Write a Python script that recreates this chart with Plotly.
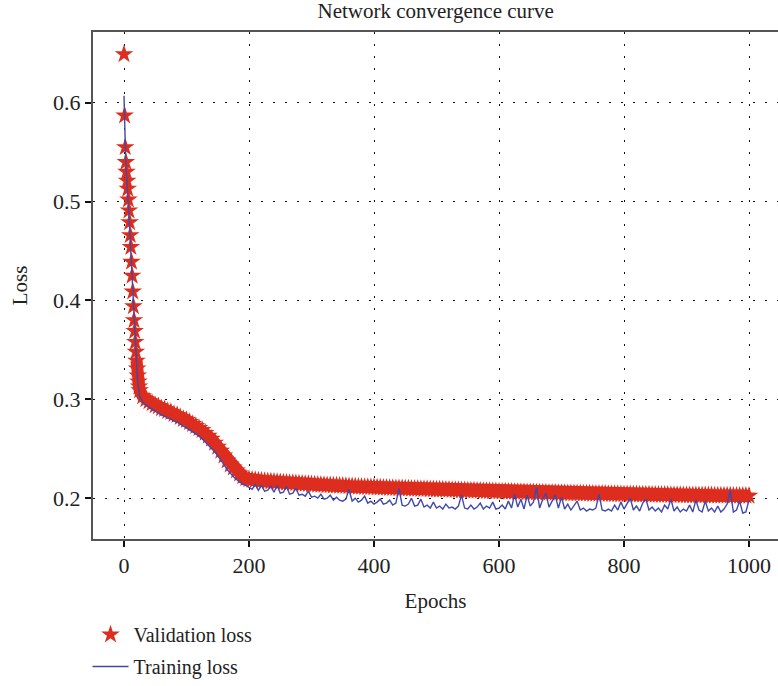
import plotly.graph_objects as go

# ---------------- data ----------------
val_epochs = list(range(0, 26)) + list(range(30, 1001, 5))
val_loss = [
    0.649, 0.587, 0.555, 0.540, 0.530, 0.521, 0.513, 0.502, 0.491, 0.479,
    0.466, 0.454, 0.439, 0.425, 0.409, 0.394, 0.380, 0.369, 0.358, 0.348,
    0.339, 0.331, 0.324, 0.318, 0.313, 0.309,
    # 30..200 step 5
    0.303, 0.300, 0.298, 0.296, 0.294, 0.293, 0.291, 0.290, 0.288, 0.287,
    0.285, 0.284, 0.282, 0.280, 0.279, 0.277, 0.275, 0.273, 0.271, 0.269,
    0.266, 0.263, 0.260, 0.256, 0.252, 0.248, 0.243, 0.238, 0.234, 0.231,
    0.228, 0.225, 0.222, 0.220, 0.219,
    # 205..1000 step 5
    0.2186, 0.2182, 0.2179, 0.2176, 0.2173, 0.2170, 0.2168, 0.2165, 0.2162, 0.2160,
    0.2158, 0.2156, 0.2154, 0.2152, 0.2150, 0.2148, 0.2146, 0.2144, 0.2142, 0.2140,
    0.2138, 0.2136, 0.2134, 0.2133, 0.2131, 0.2130, 0.2128, 0.2127, 0.2125, 0.2124,
    0.2122, 0.2121, 0.2119, 0.2118, 0.2116, 0.2115, 0.2113, 0.2112, 0.2111, 0.2110,
    0.2108, 0.2107, 0.2106, 0.2105, 0.2103, 0.2102, 0.2101, 0.2100, 0.2099, 0.2098,
    0.2097, 0.2096, 0.2095, 0.2094, 0.2093, 0.2092, 0.2091, 0.2090, 0.2089, 0.2088,
    0.2087, 0.2086, 0.2085, 0.2084, 0.2083, 0.2082, 0.2081, 0.2080, 0.2079, 0.2078,
    0.2077, 0.2076, 0.2075, 0.2074, 0.2073, 0.2072, 0.2071, 0.2070, 0.2069, 0.2068,
    0.2067, 0.2066, 0.2065, 0.2064, 0.2063, 0.2062, 0.2062, 0.2061, 0.2060, 0.2060,
    0.2059, 0.2058, 0.2057, 0.2056, 0.2056, 0.2055, 0.2054, 0.2054, 0.2053, 0.2052,
    0.2051, 0.2050, 0.2050, 0.2049, 0.2048, 0.2048, 0.2047, 0.2046, 0.2046, 0.2045,
    0.2045, 0.2044, 0.2044, 0.2043, 0.2042, 0.2042, 0.2041, 0.2041, 0.2040, 0.2040,
    0.2039, 0.2039, 0.2038, 0.2038, 0.2037, 0.2037, 0.2036, 0.2036, 0.2035, 0.2035,
    0.2034, 0.2034, 0.2033, 0.2033, 0.2032, 0.2032, 0.2031, 0.2031, 0.2030, 0.2030,
    0.2030, 0.2030, 0.2029, 0.2029, 0.2028, 0.2028, 0.2028, 0.2028, 0.2027, 0.2027,
    0.2026, 0.2026, 0.2026, 0.2026, 0.2025, 0.2025, 0.2025, 0.2025, 0.2024, 0.2024,
]

train_epochs = list(range(0, 26)) + list(range(30, 1001, 5))
train_loss = [
    0.607, 0.572, 0.550, 0.536, 0.526, 0.517, 0.507, 0.496, 0.485, 0.473,
    0.460, 0.447, 0.433, 0.419, 0.404, 0.390, 0.376, 0.364, 0.353, 0.343,
    0.334, 0.326, 0.318, 0.312, 0.307, 0.303,
    # 30..200 step 5
    0.297, 0.294, 0.292, 0.290, 0.288, 0.286, 0.284, 0.283, 0.281, 0.280,
    0.278, 0.277, 0.275, 0.273, 0.271, 0.269, 0.267, 0.265, 0.263, 0.260,
    0.257, 0.254, 0.251, 0.247, 0.243, 0.239, 0.234, 0.229, 0.225, 0.222,
    0.219, 0.216, 0.214, 0.213, 0.211,
    # 205..1000 step 5
    0.209, 0.214, 0.208, 0.213, 0.207, 0.208, 0.212, 0.206, 0.213, 0.205,
    0.206, 0.212, 0.204, 0.205, 0.210, 0.203, 0.204, 0.202, 0.207, 0.201,
    0.202, 0.200, 0.204, 0.199, 0.200, 0.203, 0.198, 0.201, 0.198, 0.197,
    0.199, 0.209, 0.197, 0.200, 0.196, 0.198, 0.202, 0.195, 0.197, 0.194,
    0.196, 0.199, 0.194, 0.195, 0.198, 0.193, 0.195, 0.210, 0.193, 0.192,
    0.194, 0.200, 0.192, 0.193, 0.199, 0.191, 0.193, 0.190, 0.196, 0.190,
    0.192, 0.189, 0.194, 0.190, 0.191, 0.189, 0.192, 0.203, 0.190, 0.189,
    0.193, 0.189, 0.191, 0.195, 0.189, 0.192, 0.190, 0.196, 0.189, 0.190,
    0.193, 0.189, 0.197, 0.190, 0.204, 0.191, 0.199, 0.189, 0.203, 0.192,
    0.196, 0.211, 0.190, 0.199, 0.205, 0.191, 0.197, 0.203, 0.190, 0.201,
    0.189, 0.194, 0.188, 0.192, 0.197, 0.188, 0.190, 0.187, 0.189, 0.188,
    0.190, 0.204, 0.188, 0.187, 0.189, 0.187, 0.193, 0.188, 0.196, 0.189,
    0.194, 0.200, 0.188, 0.192, 0.187, 0.195, 0.199, 0.188, 0.191, 0.187,
    0.190, 0.186, 0.193, 0.189, 0.199, 0.187, 0.191, 0.186, 0.189, 0.187,
    0.193, 0.186, 0.198, 0.188, 0.186, 0.197, 0.187, 0.190, 0.186, 0.192,
    0.186, 0.189, 0.194, 0.208, 0.186, 0.188, 0.197, 0.185, 0.186, 0.198,
]

x_ticks = [0, 200, 400, 600, 800, 1000]
y_ticks = [0.2, 0.3, 0.4, 0.5, 0.6]

# ---------------- figure ----------------
FONT = "Liberation Serif"
RED = "#DD2D1E"
BLUE = "#3F49AA"
DENSE_FROM = 20  # from here the stars are packed so densely they form a band

fig = go.Figure()
# solid core of the densely packed star band
fig.add_trace(go.Scatter(
    x=val_epochs[DENSE_FROM:], y=val_loss[DENSE_FROM:], mode="lines",
    line=dict(color=RED, width=12), showlegend=False, hoverinfo="skip",
))
fig.add_trace(go.Scatter(
    x=val_epochs, y=val_loss, mode="markers", name="Validation loss",
    marker=dict(symbol="star", size=14, color=RED, line=dict(width=0)),
    legendgroup="v",
))
fig.add_trace(go.Scatter(
    x=train_epochs, y=train_loss, mode="lines", name="Training loss",
    line=dict(color=BLUE, width=1.4),
    legendgroup="t",
))

fig.update_layout(
    width=778, height=686,
    margin=dict(l=93, r=0, t=32, b=145),
    paper_bgcolor="white", plot_bgcolor="white",
    font=dict(family=FONT, size=21, color="#222"),
    title=dict(text="Network convergence curve", x=0.56, xanchor="center",
               y=0.995, yanchor="top", font=dict(family=FONT, size=21)),
    showlegend=True,
    legend=dict(x=-0.008, xanchor="left", y=-0.15, yanchor="top",
                font=dict(family=FONT, size=20), tracegroupgap=3,
                itemwidth=36, bgcolor="rgba(0,0,0,0)"),
)
fig.update_xaxes(
    range=[-49.6, 1046.4], tickvals=x_ticks, ticks="outside", ticklen=6,
    tickwidth=2, tickcolor="#111", showline=True, linecolor="#555", linewidth=2,
    mirror=True, showgrid=True, gridcolor="#111", gridwidth=1,
    griddash="1.5px,10.5px", zeroline=False,
    tickfont=dict(family=FONT, size=22),
    title=dict(text="Epochs", standoff=16, font=dict(family=FONT, size=21)),
)
fig.update_yaxes(
    range=[0.1587, 0.6715], tickvals=y_ticks, tickformat=".1f", ticks="outside",
    ticklen=6, tickwidth=2, tickcolor="#111", showline=True, linecolor="#555",
    linewidth=2, showgrid=True, gridcolor="#111", gridwidth=1,
    griddash="1.5px,10.5px", zeroline=False,
    tickfont=dict(family=FONT, size=22),
    title=dict(text="Loss", standoff=20, font=dict(family=FONT, size=21)),
)

fig.write_html("out.html")
